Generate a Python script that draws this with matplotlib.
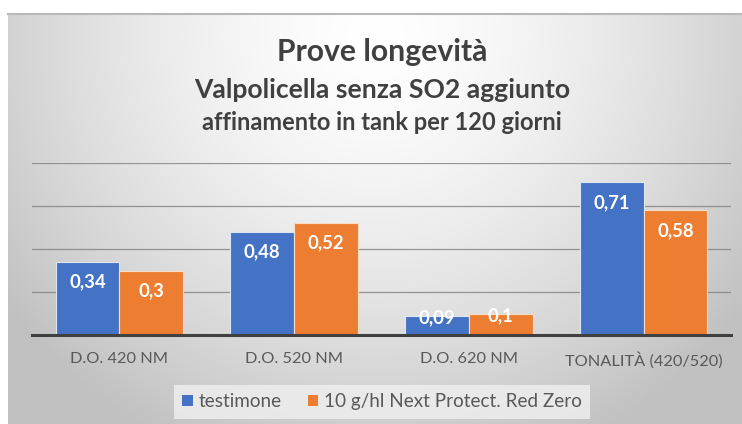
import numpy as np
import matplotlib
matplotlib.use("Agg")
import matplotlib.pyplot as plt

categories = ["D.O. 420 NM", "D.O. 520 NM", "D.O. 620 NM", "TONALITÀ (420/520)"]
series_names = ["testimone", "10 g/hl Next Protect. Red Zero"]
testimone = [0.34, 0.48, 0.09, 0.71]
red_zero = [0.30, 0.52, 0.10, 0.58]
labels_t = ["0,34", "0,48", "0,09", "0,71"]
labels_r = ["0,3", "0,52", "0,1", "0,58"]
title_lines = ["Prove longevità", "Valpolicella senza SO2 aggiunto", "affinamento in tank per 120 giorni"]

W, H = 742, 424
fig = plt.figure(figsize=(W/100, H/100), dpi=100)
fig.patch.set_facecolor("white")
FONT = "Lato"

# background panel with radial gradient
bg = fig.add_axes([8/W, 0, (W-8)/W, (H-14)/H])
ny, nx = 200, 360
yy, xx = np.mgrid[0:ny, 0:nx]
cx, cy = nx*0.5, ny*0.05
d = np.sqrt(((xx-cx)/(nx*0.62))**2 + ((yy-cy)/(ny*1.1))**2)
v = 1.0 - 0.24*np.clip(d, 0, 1)**1.5
img = np.dstack([v, v, v])
bg.imshow(img, aspect="auto", extent=[0, 1, 0, 1], origin="upper", interpolation="bilinear")
bg.set_xlim(0, 1); bg.set_ylim(0, 1)
bg.axis("off")
bg.plot([0, 1], [1, 1], color="#b8b8b8", lw=1.5, transform=bg.transAxes, clip_on=False)

ax = fig.add_axes([32/W, 1-335/H, 699/W, (335-163)/H])
ax.patch.set_alpha(0)
x = np.arange(len(categories))
bw = 0.365
b1 = ax.bar(x - bw/2, testimone, bw, color="#4472C4", edgecolor="#dfe6f3", linewidth=0.8, zorder=3, label=series_names[0])
b2 = ax.bar(x + bw/2, red_zero, bw, color="#ED7D31", edgecolor="#f7dcc8", linewidth=0.8, zorder=3, label=series_names[1])
ax.set_xlim(-0.5, len(categories)-0.5)
ax.set_ylim(0, 0.8)
ax.set_yticks([0.2, 0.4, 0.6, 0.8])
ax.yaxis.grid(True, color="#7f7f7f", lw=0.9, alpha=0.8, zorder=0)
ax.tick_params(axis="y", left=False, labelleft=False)
ax.tick_params(axis="x", bottom=False, pad=9, labelsize=11.8, labelcolor="#595959")
ax.set_xticks(x)
ax.set_xticklabels(categories, fontfamily=FONT)
for s in ["top", "right", "left"]:
    ax.spines[s].set_visible(False)
ax.spines["bottom"].set_color("#404040")
ax.spines["bottom"].set_linewidth(2.2)
ax.spines["bottom"].set_zorder(4)

for bars, labs in [(b1, labels_t), (b2, labels_r)]:
    for rect, lab in zip(bars, labs):
        h = rect.get_height()
        hpx = h / 0.8 * (335-163)
        off = -20 if hpx > 40 else -2
        ax.annotate(lab, (rect.get_x()+rect.get_width()/2, h), xytext=(0, off),
                    textcoords="offset pixels", ha="center", va="center",
                    color="white", fontsize=13.3, fontweight="bold", fontfamily=FONT, zorder=5)

tys = [52, 90, 122]
tsz = [21.7, 19.1, 17.0]
for t, yv, s in zip(title_lines, tys, tsz):
    fig.text(382/W, 1-yv/H, t, ha="center", va="center", fontsize=s, fontweight="bold",
             color="#404040", fontfamily=FONT)

leg = fig.legend(handles=[b1, b2], labels=series_names, loc="center", bbox_to_anchor=(382/W, 1-401.5/H),
                 ncol=2, frameon=True, prop={"family": FONT, "size": 13.6},
                 handlelength=0.55, handleheight=0.55, handletextpad=0.3, columnspacing=1.4,
                 borderpad=0.45, fancybox=False)
leg.get_frame().set_facecolor("#eeeeee")
leg.get_frame().set_edgecolor("none")
leg.get_frame().set_alpha(0.85)
for t in leg.get_texts():
    t.set_color("#595959")
for h in leg.legend_handles:
    h.set_edgecolor("none")

fig.savefig("out.png", dpi=100)
